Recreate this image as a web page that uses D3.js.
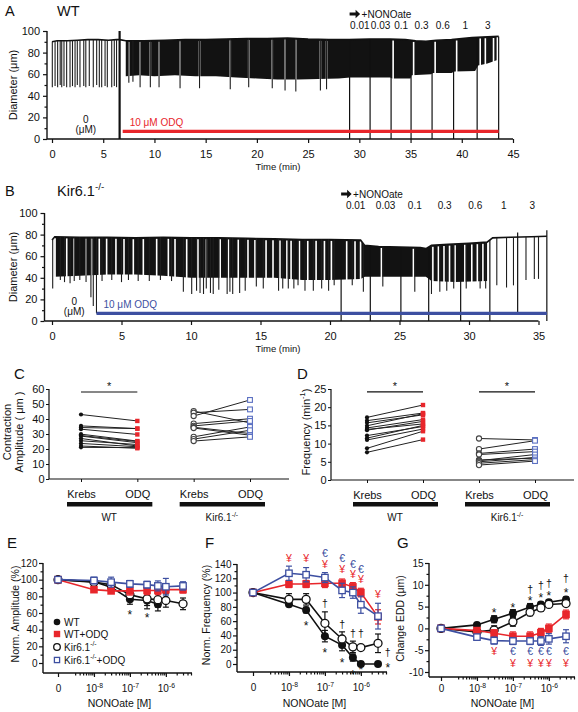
<!DOCTYPE html>
<html><head><meta charset="utf-8">
<script src="https://cdnjs.cloudflare.com/ajax/libs/d3/7.8.5/d3.min.js"></script>
<style>html,body{margin:0;padding:0;background:#fff}svg{display:block}</style>
</head><body>
<svg id="fig" width="578" height="712" xmlns="http://www.w3.org/2000/svg"></svg>
<script>
// ===================== DATA =====================
// Panel A (WT) diameter trace: [time (min), diameter (µm)]
const A_top = [[0,90],[0.5,91],[1.5,91],[2.5,91.5],[3.5,92],[4.5,92],[5.5,91.5],[6.3,92],[6.6,92],[7.2,91],[9,91],[11,91.5],[13,92],[15,92],[17,92.5],[19,93],[21,93],[23,93.5],[25,92.5],[27,92],[29,92],[31,92.5],[33,92.5],[34.5,92],[35.5,91],[36.5,90.5],[37.5,91.5],[39,92],[40,93],[41,94],[42,94.5],[43.6,95]];
const A_bottom = [[7.2,58],[8.5,59],[10,58],[12,59],[14,58],[16,58],[18,57],[20,56],[22,55],[24,55],[26,55.5],[28,56],[29.1,57],[31,57],[33,57],[33.2,56],[35,56],[35.1,59],[37,60],[37.2,61],[39,61],[39.3,62.5],[41.3,63],[41.6,68],[42.5,70],[43.4,73]];
const A_spikes = [[0.03,48],[0.3,49],[0.55,48],[0.8,50],[0.95,48],[1.17,49],[1.43,48],[1.76,48],[2.0,49],[2.25,48],[2.47,50],[2.73,48],[3.1,49],[3.3,48],[3.64,49],[4.03,48],[4.36,50],[4.62,48],[4.85,48],[5.18,49],[5.4,48],[5.83,48],[6.08,49],[6.3,48],
  [7.5,52],[7.9,53],[8.6,48],[9.6,48],[10.45,48],[12.5,47],[14.4,47],[17.4,46],[19.2,48],[21.5,47],[22.75,45],[23.8,44],[26.2,45],[26.8,46]];
const A_gaps = [7.5,8.6,9.6,10.45,12.5,14.4,17.4,19.2,21.5,22.75,23.8,26.2,26.8,33.3,35.3,37.4,39.5,41.8,42.3,43.1];
const A_artifact = [6.6, 0, 100];
const A_doseTimes = [29.05,31.05,33.1,35.05,37.1,39.2,41.5,43.6];
const A_odq = [6.9, 43.6, 7];

// Panel B (Kir6.1-/-) trace
const B_top = [[0,75],[0.2,78],[2,77.5],[4,77.5],[6,77],[8,77.5],[10,77],[12,77],[14,76.5],[16,76],[18,75.5],[20,75.5],[22.2,75],[22.5,70],[23.5,69],[25,68.5],[26.5,68],[26.9,67],[27.3,70],[28.5,71],[30,72],[31.3,73],[31.7,77],[33,77.5],[34.5,78],[35.6,78.5]];
const B_bottom = [[0.2,41],[2,42],[4,43],[6,43],[8,42],[10,40],[12,40],[14,40],[16,40],[18,38],[20,38],[22.2,39],[22.5,41],[26.9,41],[27.3,37],[29,36],[31.3,37]];
const B_spikes = [[0.05,30],[0.6,38],[0.9,36],[1.3,35],[1.6,37],[2.0,38],[2.45,36],[2.8,22],[2.97,14],[3.2,7],[3.6,37],[4.3,38],[5.0,36],[5.5,38],[6.2,37],[7.0,37],[7.8,38],[8.6,37],[9.45,27],[10.05,25],[10.4,28],[10.65,26],[10.9,25],[11.1,30],[11.4,26],[11.6,25],[12.0,29],[12.6,25],[12.8,27],[13.0,25],[13.5,26],[13.9,28],[14.7,32],[15.2,30],[16.3,28],[16.6,30],[17.0,30],[17.4,30],[17.7,33],[18.2,28],[18.8,28],[19.4,30],[19.9,28],[20.3,33],[21.6,33],[22.4,27],[23.8,32],[26.1,27],[27.3,25],[27.9,27],[28.4,28],[28.9,30],[29.8,30],[30.8,30],[31.2,30],[32.0,33],[32.7,31],[33.2,33],[34.1,38],[34.7,39],[35.0,39]];
const B_gaps = [0.22,1.06,1.58,2.45,2.85,3.4,3.93,4.6,5.18,5.85,6.57,7.53,8.37,8.85,9.69,10.5,11.1,12.1,12.7,13.4,14.1,14.6,15.4,15.9,16.4,16.9,17.2,17.8,18.4,19.0,19.6,20.1,21.2,21.8,22.2,23.7,26.0,27.4,27.8,28.2,28.6,29.0,29.7,30.2,30.6,31.0];
const B_doseTimes = [20.8,22.9,25.1,27.1,29.4,31.5,33.5,35.6];
const B_doseLow  = [0,0,0,0,0,0,6,0];
const B_dosePeak = [null,null,null,null,null,null,82,84];
const B_odq = [3.2, 35.6, 7];
const doseLabels = ["0.01","0.03","0.1","0.3","0.6","1","3"];

// Panels C and D: paired values (Krebs -> ODQ)
const catNames = ["Krebs","ODQ","Krebs","ODQ"];
const C_wtKrebs = [43,35.4,34.3,33.2,29.9,29,28.6,27,25.5,23.7,22,21.1];
const C_wtODQ   = [38.7,33.6,33.6,29.7,25.3,25,24.2,22,23,21.5,20.5,20.9];
const C_kirKrebs= [45.3,44.2,42,36.9,35.4,34.5,34,28.1,26.6,25.3];
const C_kirODQ  = [37.4,46.4,52.7,40.2,38.7,30.3,29.2,34.7,32.5,28.1];
const D_wtKrebs = [17.2,16.3,15.7,14.9,14.3,13.7,13.9,12.2,11.5,11,8.7,7.6];
const D_wtODQ   = [20.6,18.4,17.9,18.2,16.6,16.1,15.4,14.7,15.0,14,13.4,11.1];
const D_kirKrebs= [11.4,8.5,7.3,7,5.5,5.3,5,4.6,4.1];
const D_kirODQ  = [11,10.8,8.5,7.8,6,7,6.2,5.6,5.2];
const C_sig = [58], D_sig = [24.2, 24.2];

// Panels E, F, G: NONOate concentration-response
const conc = [0,1e-8,3e-8,1e-7,3e-7,6e-7,1e-6,3e-6];
const E_WT = [100,97.5,91,76.5,75,70.5],            E_WT_err = [0,3,5,6,10,8];
const E_WTODQ = [100,88,86.5,86.5,87,87,88,88],     E_WTODQ_err = [0,3,3,5,5,5,4,4];
const E_Kir = [100,97,94,82,77,76,75,71],           E_Kir_err = [0,4,5,6,8,9,8,7];
const E_KirODQ = [100,99,97,95,94,92.5,91.5,92.5],  E_KirODQ_err = [0,4,6,4,4,6,10,5];
const F_WT = [100,83.5,75.5,39,26.5,9,0,0],         F_WT_err = [0,3,4,8,8,5,0,0];
const F_WTODQ = [100,112,112,113,113,108,100,66],   F_WTODQ_err = [0,5,5,6,6,6,6,10];
const F_Kir = [100,90.5,90.5,57,35,24,23,29],       F_Kir_err = [0,8,8,16,10,8,3,13];
const F_KirODQ = [100,127,125,121,103,100,83,67],   F_KirODQ_err = [0,10,10,7,10,8,12,18];
const G_WT = [0,0.8,2.1,3.5,4.9,5.5,6.0,6.6],       G_WT_err = [0,0.3,0.8,0.8,0.8,0.5,0.5,0.6];
const G_WTODQ = [0,-0.5,-1.1,-1.8,-1.8,-1.0,0,3.2], G_WTODQ_err = [0,0.6,0.8,1.0,1.0,1.0,1.0,1.0];
const G_Kir = [0,-0.8,-0.4,1.5,3.7,4.7,5.5,5.7],    G_Kir_err = [0,0.5,1.0,1.0,0.8,0.8,0.5,0.6];
const G_KirODQ = [0,-2.0,-2.8,-2.9,-2.9,-2.9,-2.4,-1.8], G_KirODQ_err = [0,0.6,0.8,0.8,0.8,1.0,1.2,1.5];
// significance symbols: [concentration, value]
const E_star = [[1e-7,61],[3e-7,58]];
const F_yen = [[1e-8,148],[3e-8,148],[1e-7,140],[3e-7,132],[6e-7,125],[1e-6,118],[3e-6,98]];
const F_euro = [[1e-7,155],[3e-7,148],[6e-7,140],[1e-6,133]];
const F_dagger = [[1e-7,85],[3e-7,55],[6e-7,43],[1e-6,43],[5.6e-6,17]];
const F_star = [[3e-8,58],[1e-7,20],[3e-7,6],[6e-7,-11],[1e-6,-4],[5.6e-6,-1]];
const G_star = [[3e-8,4.1],[1e-7,5.4],[3e-7,7.0],[6e-7,7.6],[1e-6,8.2],[3e-6,8.7]];
const G_dagger = [[3e-7,9.0],[6e-7,9.9],[1e-6,10.3],[3e-6,11.5]];
const G_yen = [[3e-8,-5.3],[1e-7,-7.9],[3e-7,-7.9],[6e-7,-7.9],[1e-6,-7.9],[3e-6,-7.9]];
const G_euro = [[1e-7,-5.2],[3e-7,-5.2],[6e-7,-5.2],[1e-6,-5.2],[3e-6,-5.2]];

// ===================== DRAWING =====================
const FONT = "'Liberation Sans', Arial, sans-serif";
const RED = "#e8262b", BLUE = "#3d4fa1", BLUE2 = "#5b70c2", INK = "#111";
const svg = d3.select("#fig").attr("font-family", FONT);

function rich(t, parts, fs) {
  let up = false;
  parts.forEach(p => {
    const sup = typeof p === "object";
    const ts = t.append("tspan").text(sup ? p.sup : p);
    if (sup) { ts.attr("font-size", fs * 0.68); if (!up) { ts.attr("dy", -0.42 * fs); up = true; } }
    else if (up) { ts.attr("dy", 0.42 * fs); up = false; }
  });
}
function txt(g, x, y, s, fs, opt = {}) {
  const t = g.append("text").attr("x", x).attr("y", y).attr("font-size", fs)
    .attr("text-anchor", opt.anchor || "start").attr("fill", opt.fill || INK);
  if (opt.rotate) t.attr("transform", `rotate(${opt.rotate},${x},${y})`);
  if (opt.dy) t.attr("dy", opt.dy);
  if (Array.isArray(s)) rich(t, s, fs); else t.text(s);
  return t;
}
function styleAx(a, fs, sw) {
  a.attr("font-family", FONT).attr("font-size", fs);
  a.select(".domain").remove();
  a.selectAll(".tick line").attr("stroke", INK).attr("stroke-width", sw || 1.2);
  a.selectAll(".tick text").attr("fill", INK);
  return a;
}
function axLeft(g, scale, x, major, minor, fs, opt = {}) {
  styleAx(g.append("g").attr("transform", `translate(${x},0)`)
    .call(d3.axisLeft(scale).tickValues(major).tickSize(opt.ts || 4).tickPadding(opt.pad || 2).tickFormat(opt.fmt || (d => d))), fs, opt.tsw);
  if (minor && minor.length)
    styleAx(g.append("g").attr("transform", `translate(${x},0)`)
      .call(d3.axisLeft(scale).tickValues(minor).tickSize(opt.mts || 2.5).tickFormat(() => "")), fs, opt.tsw);
  const sp = opt.span || scale.range();
  g.append("line").attr("x1", x).attr("x2", x).attr("y1", sp[0]).attr("y2", sp[1]).attr("stroke", INK).attr("stroke-width", opt.sw || 1.4);
}
function axBottom(g, scale, y, major, minor, fs, opt = {}) {
  const a = styleAx(g.append("g").attr("transform", `translate(0,${y})`)
    .call(d3.axisBottom(scale).tickValues(major).tickSize(opt.ts || 4).tickPadding(opt.pad || 2).tickFormat(opt.fmt || (d => d))), fs, opt.tsw);
  if (minor && minor.length)
    styleAx(g.append("g").attr("transform", `translate(0,${y})`)
      .call(d3.axisBottom(scale).tickValues(minor).tickSize(opt.mts || 2.5).tickFormat(() => "")), fs, opt.tsw);
  const sp = opt.span || scale.range();
  g.append("line").attr("x1", sp[0]).attr("x2", sp[1]).attr("y1", y).attr("y2", y).attr("stroke", INK).attr("stroke-width", opt.sw || 1.4);
  return a;
}
function interp(arr, t) {
  const i = d3.bisector(d => d[0]).left(arr, t);
  if (i <= 0) return arr[0][1];
  if (i >= arr.length) return arr[arr.length - 1][1];
  const a = arr[i - 1], b = arr[i];
  return a[1] + (b[1] - a[1]) * (t - a[0]) / (b[0] - a[0]);
}
function vline(g, x, y1, y2, col, w) {
  g.append("line").attr("x1", x).attr("x2", x).attr("y1", y1).attr("y2", y2).attr("stroke", col).attr("stroke-width", w);
}
function arrowLabel(g, x0, yc) {
  g.append("path").attr("d", `M${x0},${yc-1.6}h6v-2.6l4.5,4.2l-4.5,4.2v-2.6h-6z`).attr("fill", INK);
  txt(g, x0 + 12, yc + 3.5, "+NONOate", 10);
}

function tracePanel(cfg) {
  const g = svg.append("g");
  const x = cfg.x, y = cfg.y;
  const line = d3.line().x(d => x(d[0])).y(d => y(d[1]));
  // dense contraction band
  const bt = cfg.bottom, t0 = bt[0][0], t1 = bt[bt.length - 1][0];
  const poly = [[t0, interp(cfg.top, t0)], ...cfg.top.filter(d => d[0] > t0 && d[0] < t1), [t1, interp(cfg.top, t1)], ...bt.slice().reverse()];
  g.append("path").attr("d", line(poly) + "Z").attr("fill", "#121212");
  // pauses inside band
  cfg.gaps.forEach(t => vline(g, x(t), y(interp(cfg.top, t)) + 1.4, y(interp(bt, t)) + 1.5, "#fff", 1.6));
  // diameter baseline
  g.append("path").datum(cfg.top).attr("d", line).attr("fill", "none").attr("stroke", INK).attr("stroke-width", 1.6);
  // individual contractions
  cfg.spikes.forEach(([t, v]) => vline(g, x(t), y(interp(cfg.top, t)), y(v), "#1e1e1e", 1.1));
  // drug-addition artifacts
  cfg.doseTimes.forEach((t, i) => {
    const hi = cfg.dosePeak && cfg.dosePeak[i] != null ? cfg.dosePeak[i] : interp(cfg.top, t);
    const lo = cfg.doseLow ? cfg.doseLow[i] : 0;
    vline(g, x(t), y(hi), y(lo), INK, 1.2);
  });
  if (cfg.artifact) vline(g, x(cfg.artifact[0]), y(cfg.artifact[2]), y(cfg.artifact[1]), INK, 2.2);
  // ODQ bar
  g.append("line").attr("x1", x(cfg.odq[0])).attr("x2", x(cfg.odq[1])).attr("y1", y(cfg.odq[2])).attr("y2", y(cfg.odq[2]))
    .attr("stroke", cfg.odqColor).attr("stroke-width", 3.2);
  txt(g, x(cfg.odq[0]) + 7, y(cfg.odq[2]) - 5, "10 μM ODQ", 10, { fill: cfg.odqColor });
  // axes
  axLeft(g, y, cfg.yAxisX, d3.range(0, 101, 20), d3.range(10, 100, 20), 11, { pad: 3, span: [y(100), y(0)] });
  axBottom(g, x, y(0), d3.range(0, cfg.xmax + 1, 5), [], 11, { pad: 7, span: [cfg.yAxisX, x.range()[1]] });
  txt(g, 17, (y(0) + y(100)) / 2, "Diameter (μm)", 11, { anchor: "middle", rotate: -90 });
  txt(g, 278, y(0) + cfg.timeDy, "Time (min)", 9.5, { anchor: "middle" });
  // NONOate concentrations centred between consecutive additions
  const d = cfg.doseTimes;
  arrowLabel(g, x(d[0]), cfg.arrowY);
  doseLabels.forEach((s, i) => txt(g, x((d[i] + d[i + 1]) / 2), cfg.arrowY + 15, s, 10, { anchor: "middle" }));
  // zero-dose label
  const zx = x(cfg.artifact ? cfg.artifact[0] / 2 : cfg.odq[0] / 2);
  txt(g, zx, y(cfg.odq[2]) - 8, "0", 10, { anchor: "middle" });
  txt(g, zx, y(cfg.odq[2]) + 2, "(μM)", 10, { anchor: "middle" });
  // titles
  txt(g, 5, cfg.titleY, cfg.letter, 14.5);
  txt(g, 57, cfg.titleY, cfg.title, 14.5);
}

tracePanel({
  x: d3.scaleLinear().domain([0, 45]).range([52, 513]), y: d3.scaleLinear().domain([0, 100]).range([139, 31]), xmax: 45,
  top: A_top, bottom: A_bottom, spikes: A_spikes, gaps: A_gaps, doseTimes: A_doseTimes, artifact: A_artifact,
  odq: A_odq, odqColor: RED, yAxisX: 47, timeDy: 31, arrowY: 14, letter: "A", title: "WT", titleY: 16
});
tracePanel({
  x: d3.scaleLinear().domain([0, 35]).range([52, 538.5]), y: d3.scaleLinear().domain([0, 100]).range([321, 213]), xmax: 35,
  top: B_top, bottom: B_bottom, spikes: B_spikes, gaps: B_gaps, doseTimes: B_doseTimes, doseLow: B_doseLow, dosePeak: B_dosePeak,
  odq: B_odq, odqColor: BLUE, yAxisX: 44.5, timeDy: 31, arrowY: 194, letter: "B", title: ["Kir6.1", { sup: "-/-" }], titleY: 196
});

// ---------- C & D paired plots ----------
function marker(g, kind, cx, cy, s) {
  if (kind === "fc") g.append("circle").attr("cx", cx).attr("cy", cy).attr("r", s).attr("fill", INK);
  else if (kind === "oc") g.append("circle").attr("cx", cx).attr("cy", cy).attr("r", s).attr("fill", "#fff").attr("stroke", INK).attr("stroke-width", 1.3);
  else if (kind === "fs") g.append("rect").attr("x", cx - s).attr("y", cy - s).attr("width", 2 * s).attr("height", 2 * s).attr("fill", RED);
  else if (kind === "os") g.append("rect").attr("x", cx - s + 0.6).attr("y", cy - s + 0.6).attr("width", 2 * s - 1.2).attr("height", 2 * s - 1.2).attr("fill", "#fff").attr("stroke", BLUE).attr("stroke-width", 1.3);
  else if (kind === "ocs") g.append("circle").attr("cx", cx).attr("cy", cy).attr("r", s).attr("fill", "#fff").attr("stroke", "#444").attr("stroke-width", 1.1);
  else if (kind === "oss") g.append("rect").attr("x", cx - s).attr("y", cy - s).attr("width", 2 * s).attr("height", 2 * s).attr("fill", "#fff").attr("stroke", BLUE2).attr("stroke-width", 1.1);
}
function pairedPanel(cfg) {
  const g = svg.append("g");
  const keys = ["a", "b", "c", "d"];
  const x = d3.scalePoint().domain(keys).range(cfg.xr);
  const y = cfg.y;
  const groups = [[cfg.wtK, cfg.wtO, "a", "b", "fc", "fs"], [cfg.kK, cfg.kO, "c", "d", "ocs", "oss"]];
  groups.forEach(([L, R, ka, kb, mL, mR]) => {
    L.forEach((v, i) => g.append("line").attr("x1", x(ka)).attr("x2", x(kb)).attr("y1", y(v)).attr("y2", y(R[i])).attr("stroke", "#222").attr("stroke-width", 1));
    L.forEach(v => marker(g, mL, x(ka), y(v), mL === "fc" ? 2.1 : 2.6));
    R.forEach(v => marker(g, mR, x(kb), y(v), mR === "fs" ? 2.2 : 2.4));
  });
  axLeft(g, y, cfg.ax, cfg.ticks, [], 11, { ts: 3, pad: 1.5, sw: 1.2, tsw: 1 });
  axBottom(g, x, y(0), keys, [], 11, { ts: 3, pad: 8, sw: 1.2, tsw: 1, fmt: (d, i) => catNames[i], span: [cfg.ax, cfg.axEnd] });
  // group bars and labels
  [["a", "b", "WT"], ["c", "d", ["Kir6.1", { sup: "-/-" }]]].forEach(([a, b, lab]) => {
    g.append("rect").attr("x", x(a) - 14).attr("y", 502).attr("width", x(b) - x(a) + 29).attr("height", 4.5).attr("fill", INK);
    txt(g, (x(a) + x(b)) / 2, 521, lab, 10, { anchor: "middle" });
  });
  // significance
  cfg.sig.forEach((v, i) => {
    const a = keys[2 * i], b = keys[2 * i + 1];
    g.append("line").attr("x1", x(a)).attr("x2", x(b)).attr("y1", y(v)).attr("y2", y(v)).attr("stroke", INK).attr("stroke-width", 1.2);
    txt(g, (x(a) + x(b)) / 2, y(v) - 2, "*", 11, { anchor: "middle" });
  });
  txt(g, cfg.letterX, 379, cfg.letter, 15);
  cfg.ylabel(g);
}
pairedPanel({
  xr: [81, 250], y: d3.scaleLinear().domain([0, 60]).range([479, 389]), ax: 49, axEnd: 289, ticks: d3.range(0, 61, 10),
  wtK: C_wtKrebs, wtO: C_wtODQ, kK: C_kirKrebs, kO: C_kirODQ, sig: C_sig, letter: "C", letterX: 14,
  ylabel: g => { txt(g, 11, 432, "Contraction", 11, { anchor: "middle", rotate: -90 }); txt(g, 23, 432, "Amplitude ( μm )", 11, { anchor: "middle", rotate: -90 }); }
});
pairedPanel({
  xr: [367, 535], y: d3.scaleLinear().domain([0, 25]).range([480, 389]), ax: 331, axEnd: 574, ticks: d3.range(0, 26, 5),
  wtK: D_wtKrebs, wtO: D_wtODQ, kK: D_kirKrebs, kO: D_kirODQ, sig: D_sig, letter: "D", letterX: 297,
  ylabel: g => txt(g, 310, 432, ["Frequency (min", { sup: "-1" }, ")"], 11, { anchor: "middle", rotate: -90 })
});

// ---------- E, F, G concentration-response ----------
const ZERO = 1e-9; // axis position used for the zero-concentration point
const minorConc = [];
[-9, -8, -7, -6].forEach(e => d3.range(2, 10).forEach(k => { const v = k * Math.pow(10, e); if (v >= 2.9e-9 && v <= 5e-6) minorConc.push(v); }));
function drPanel(cfg) {
  const g = svg.append("g");
  const x = d3.scaleLog().domain([ZERO, 5e-6]).range(cfg.xr);
  const y = cfg.y;
  const X = c => x(c === 0 ? ZERO : c);
  axLeft(g, y, cfg.ax, cfg.ticks, cfg.minor, 10, { pad: 1.5, span: [y.range()[1], cfg.xAxisY] });
  const a = axBottom(g, x, cfg.xAxisY, [ZERO, 1e-8, 1e-7, 1e-6], minorConc, 10, { pad: cfg.xpad, span: [cfg.ax, x.range()[1] + 1] });
  a.selectAll(".tick text").each(function (d) {
    const t = d3.select(this); t.text("");
    if (d === ZERO) t.text("0"); else rich(t, ["10", { sup: String(Math.round(Math.log10(d))) }], 10);
  });
  cfg.series.forEach(s => {
    const pts = s.v.map((v, i) => [X(conc[i]), y(v), s.e[i]]);
    g.append("path").attr("d", d3.line()(pts.map(p => [p[0], p[1]]))).attr("fill", "none").attr("stroke", s.c).attr("stroke-width", 1.6);
    s.v.forEach((v, i) => {
      if (!s.e[i]) return;
      const cx = X(conc[i]), yl = y(v - s.e[i]), yh = y(v + s.e[i]);
      vline(g, cx, yl, yh, s.c, 1.2);
      [yl, yh].forEach(yy => g.append("line").attr("x1", cx - 3).attr("x2", cx + 3).attr("y1", yy).attr("y2", yy).attr("stroke", s.c).attr("stroke-width", 1.2));
    });
    pts.forEach(p => marker(g, s.m, p[0], p[1], s.m === "fc" || s.m === "oc" ? 4 : 3.8));
  });
  (cfg.marks || []).forEach(([arr, sym, col]) => arr.forEach(([c, v]) =>
    txt(g, X(c), y(v), sym, sym === "*" ? 12 : 10.5, { anchor: "middle", fill: col, dy: sym === "*" ? "0.58em" : "0.36em" })));
  txt(g, cfg.letterX, 548, cfg.letter, 15);
  txt(g, (cfg.xr[0] + cfg.xr[1]) / 2 - 5, 707, "NONOate [M]", 10.5, { anchor: "middle" });
  txt(g, cfg.ylx, (y.range()[0] + y.range()[1]) / 2 + 1, cfg.ylabel, 10.5, { anchor: "middle", rotate: -90 });
  return g;
}
const eG = drPanel({
  xr: [58, 191], y: d3.scaleLinear().domain([0, 120]).range([663, 563]), ax: 43, xAxisY: 673, xpad: 8,
  ticks: d3.range(0, 121, 20), minor: d3.range(10, 120, 20), letter: "E", letterX: 7, ylx: 19, ylabel: "Norm. Amplitude (%)",
  series: [
    { v: E_WT, e: E_WT_err, c: INK, m: "fc" }, { v: E_Kir, e: E_Kir_err, c: INK, m: "oc" },
    { v: E_WTODQ, e: E_WTODQ_err, c: RED, m: "fs" }, { v: E_KirODQ, e: E_KirODQ_err, c: BLUE, m: "os" }],
  marks: [[E_star, "*", INK]]
});
// legend
[["fc", "WT"], ["fs", "WT+ODQ"], ["oc", ["Kir6.1", { sup: "-/-" }]], ["os", ["Kir6.1", { sup: "-/-" }, "+ODQ"]]].forEach(([m, lab], i) => {
  const yy = [622, 634, 647, 660][i];
  marker(eG, m, 57, yy, m === "fc" || m === "oc" ? 3.3 : 3.2);
  txt(eG, 64, yy + 3.6, lab, 10);
});
drPanel({
  xr: [253, 386], y: d3.scaleLinear().domain([0, 140]).range([664, 564]), ax: 237, xAxisY: 672, xpad: 8,
  ticks: d3.range(0, 141, 20), minor: d3.range(10, 140, 20), letter: "F", letterX: 205, ylx: 210, ylabel: "Norm. Frequency (%)",
  series: [
    { v: F_WT, e: F_WT_err, c: INK, m: "fc" }, { v: F_Kir, e: F_Kir_err, c: INK, m: "oc" },
    { v: F_WTODQ, e: F_WTODQ_err, c: RED, m: "fs" }, { v: F_KirODQ, e: F_KirODQ_err, c: BLUE, m: "os" }],
  marks: [[F_yen, "¥", RED], [F_euro, "€", BLUE], [F_dagger, "†", INK], [F_star, "*", INK]]
});
drPanel({
  xr: [441, 574], y: d3.scaleLinear().domain([-10, 15]).range([672, 563]), ax: 429, xAxisY: 677, xpad: 4,
  ticks: d3.range(-10, 16, 5), minor: d3.range(-7.5, 15, 5), letter: "G", letterX: 397, ylx: 404, ylabel: "Change EDD (μm)",
  series: [
    { v: G_WT, e: G_WT_err, c: INK, m: "fc" }, { v: G_Kir, e: G_Kir_err, c: INK, m: "oc" },
    { v: G_WTODQ, e: G_WTODQ_err, c: RED, m: "fs" }, { v: G_KirODQ, e: G_KirODQ_err, c: BLUE, m: "os" }],
  marks: [[G_star, "*", INK], [G_dagger, "†", INK], [G_yen, "¥", RED], [G_euro, "€", BLUE]]
});
</script>
</body></html>
